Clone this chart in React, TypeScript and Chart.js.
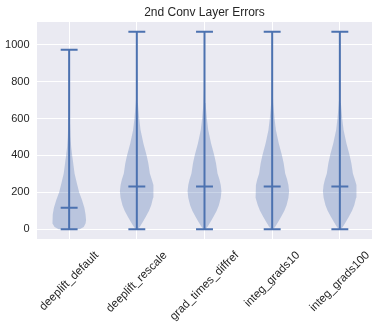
import React, { useEffect, useRef } from 'react';
import { Chart, registerables } from 'chart.js';

Chart.register(...registerables);

const TITLE = '2nd Conv Layer Errors';
const CATEGORIES = ['deeplift_default', 'deeplift_rescale', 'grad_times_diffref', 'integ_grads10', 'integ_grads100'];
const POSITIONS = [1, 2, 3, 4, 5];
const MINS = [0, 0, 0, 0, 0];
const MEDIANS = [116, 231, 231, 231, 231];
const MAXES = [973, 1071, 1071, 1071, 1071];
const Y_TICKS = [0, 200, 400, 600, 800, 1000];

// Violin outlines: value levels and relative half-widths (1 = widest point)
const DEFAULT_LEVELS = [0, 12, 30, 50, 80, 116, 158, 200, 248, 302, 357, 400, 446, 500, 600, 750, 973];
const DEFAULT_WIDTHS = [0.62, 0.86, 0.97, 1.0, 0.97, 0.9, 0.76, 0.59, 0.46, 0.32, 0.24, 0.18, 0.12, 0.08, 0.04, 0.015, 0];

const RESCALE_LEVELS = [0, 13, 40, 67, 100, 130, 170, 205, 240, 270, 302, 357, 400, 465, 538, 600, 684, 757, 900, 1071];
const RESCALE_WIDTHS = [0.06, 0.18, 0.36, 0.53, 0.72, 0.85, 0.96, 1.0, 0.96, 0.88, 0.77, 0.68, 0.58, 0.39, 0.22, 0.14, 0.06, 0.03, 0.01, 0];

const DIFFREF_LEVELS = [0, 13, 40, 67, 100, 130, 170, 205, 240, 270, 302, 357, 400, 465, 538, 600, 684, 757, 900, 1071];
const DIFFREF_WIDTHS = [0.06, 0.18, 0.36, 0.53, 0.72, 0.85, 0.96, 1.0, 0.96, 0.88, 0.77, 0.68, 0.58, 0.39, 0.22, 0.14, 0.06, 0.03, 0.01, 0];

const IG10_LEVELS = [0, 13, 40, 67, 100, 130, 170, 205, 240, 270, 302, 357, 400, 465, 538, 600, 684, 757, 900, 1071];
const IG10_WIDTHS = [0.06, 0.18, 0.36, 0.53, 0.72, 0.85, 0.96, 1.0, 0.96, 0.88, 0.77, 0.68, 0.58, 0.39, 0.22, 0.14, 0.06, 0.03, 0.01, 0];

const IG100_LEVELS = [0, 13, 40, 67, 100, 130, 170, 205, 240, 270, 302, 357, 400, 465, 538, 600, 684, 757, 900, 1071];
const IG100_WIDTHS = [0.06, 0.18, 0.36, 0.53, 0.72, 0.85, 0.96, 1.0, 0.96, 0.88, 0.77, 0.68, 0.58, 0.39, 0.22, 0.14, 0.06, 0.03, 0.01, 0];

const PROFILES = [
  [DEFAULT_LEVELS, DEFAULT_WIDTHS],
  [RESCALE_LEVELS, RESCALE_WIDTHS],
  [DIFFREF_LEVELS, DIFFREF_WIDTHS],
  [IG10_LEVELS, IG10_WIDTHS],
  [IG100_LEVELS, IG100_WIDTHS],
];

const HALF_WIDTH = 0.25; // violin widths = 0.5
const CAP_HALF = 0.125;
const LINE_COLOR = '#4C72B0';
const FILL_COLOR = 'rgba(76,114,176,0.3)';
const TEXT_COLOR = '#262626';
const FONT = '"Liberation Sans", Arial, sans-serif';

const bgPlugin = {
  id: 'plotBg',
  beforeDraw(chart: any) {
    const { ctx, chartArea: a } = chart;
    ctx.save();
    ctx.fillStyle = '#EAEAF2';
    ctx.fillRect(a.left, a.top, a.right - a.left, a.bottom - a.top);
    ctx.restore();
  },
};

const xLabelPlugin = {
  id: 'xLabels',
  afterDraw(chart: any) {
    const { ctx } = chart;
    const xs = chart.scales.x;
    const size = 11.5;
    const c = Math.cos(Math.PI / 4);
    ctx.save();
    ctx.font = `${size}px ${FONT}`;
    ctx.fillStyle = TEXT_COLOR;
    ctx.textAlign = 'center';
    ctx.textBaseline = 'middle';
    CATEGORIES.forEach((label, i) => {
      const px = xs.getPixelForValue(POSITIONS[i]);
      const w = ctx.measureText(label).width;
      const h = size * 1.12;
      const cy = xs.top + 10 + ((w + h) * c) / 2;
      ctx.save();
      ctx.translate(px, cy);
      ctx.rotate(-Math.PI / 4);
      ctx.fillText(label, 0, 0);
      ctx.restore();
    });
    ctx.restore();
  },
};

function buildDatasets() {
  const sets: any[] = [];
  PROFILES.forEach(([levels, widths], i) => {
    const pos = POSITIONS[i];
    const right = levels.map((y, k) => ({ x: pos + widths[k] * HALF_WIDTH, y }));
    const left = levels
      .map((y, k) => ({ x: pos - widths[k] * HALF_WIDTH, y }))
      .reverse();
    sets.push({
      data: [...right, ...left],
      fill: 'shape',
      backgroundColor: FILL_COLOR,
      borderColor: 'rgba(0,0,0,0)',
      borderWidth: 0,
      pointRadius: 0,
      tension: 0,
      order: 2,
    });
  });
  POSITIONS.forEach((pos, i) => {
    const gap = { x: pos, y: null };
    sets.push({
      data: [
        { x: pos, y: MINS[i] },
        { x: pos, y: MAXES[i] },
        gap,
        { x: pos - CAP_HALF, y: MAXES[i] },
        { x: pos + CAP_HALF, y: MAXES[i] },
        gap,
        { x: pos - CAP_HALF, y: MINS[i] },
        { x: pos + CAP_HALF, y: MINS[i] },
        gap,
        { x: pos - CAP_HALF, y: MEDIANS[i] },
        { x: pos + CAP_HALF, y: MEDIANS[i] },
      ],
      fill: false,
      borderColor: LINE_COLOR,
      borderWidth: 2,
      borderCapStyle: 'butt',
      pointRadius: 0,
      spanGaps: false,
      tension: 0,
      order: 1,
    });
  });
  return sets;
}

export default function App() {
  const ref = useRef<HTMLCanvasElement | null>(null);

  useEffect(() => {
    if (!ref.current) return;
    Chart.defaults.font.family = FONT;
    const chart = new Chart(ref.current, {
      type: 'line',
      data: { datasets: buildDatasets() },
      plugins: [bgPlugin, xLabelPlugin],
      options: {
        responsive: false,
        animation: false,
        events: [],
        layout: { padding: { left: 0, right: 8, top: 0, bottom: 0 } },
        plugins: {
          legend: { display: false },
          tooltip: { enabled: false },
          title: {
            display: true,
            text: TITLE,
            fullSize: false,
            color: TEXT_COLOR,
            font: { size: 12, weight: 'normal', family: FONT },
            padding: { top: 5, bottom: 2.6 },
          },
        },
        scales: {
          x: {
            type: 'linear',
            min: 0.525,
            max: 5.475,
            afterBuildTicks: (s: any) => {
              s.ticks = POSITIONS.map((v) => ({ value: v }));
            },
            afterFit: (s: any) => {
              s.height = 91;
            },
            grid: { color: '#ffffff', lineWidth: 1, drawTicks: false },
            border: { display: false },
            ticks: { display: false },
          },
          y: {
            type: 'linear',
            min: -53.5,
            max: 1123.5,
            afterBuildTicks: (s: any) => {
              s.ticks = Y_TICKS.map((v) => ({ value: v }));
            },
            afterFit: (s: any) => {
              s.width = 37;
            },
            grid: { color: '#ffffff', lineWidth: 1, drawTicks: false },
            border: { display: false },
            ticks: {
              color: TEXT_COLOR,
              font: { size: 11, family: FONT },
              padding: 7.5,
              callback: (v: any) => String(v),
            },
          },
        },
      } as any,
    });
    return () => chart.destroy();
  }, []);

  return (
    <div style={{ position: 'fixed', left: 0, top: 0, width: 380, height: 330, background: '#fff' }}>
      <canvas ref={ref} width={380} height={330} style={{ display: 'block' }} />
    </div>
  );
}
